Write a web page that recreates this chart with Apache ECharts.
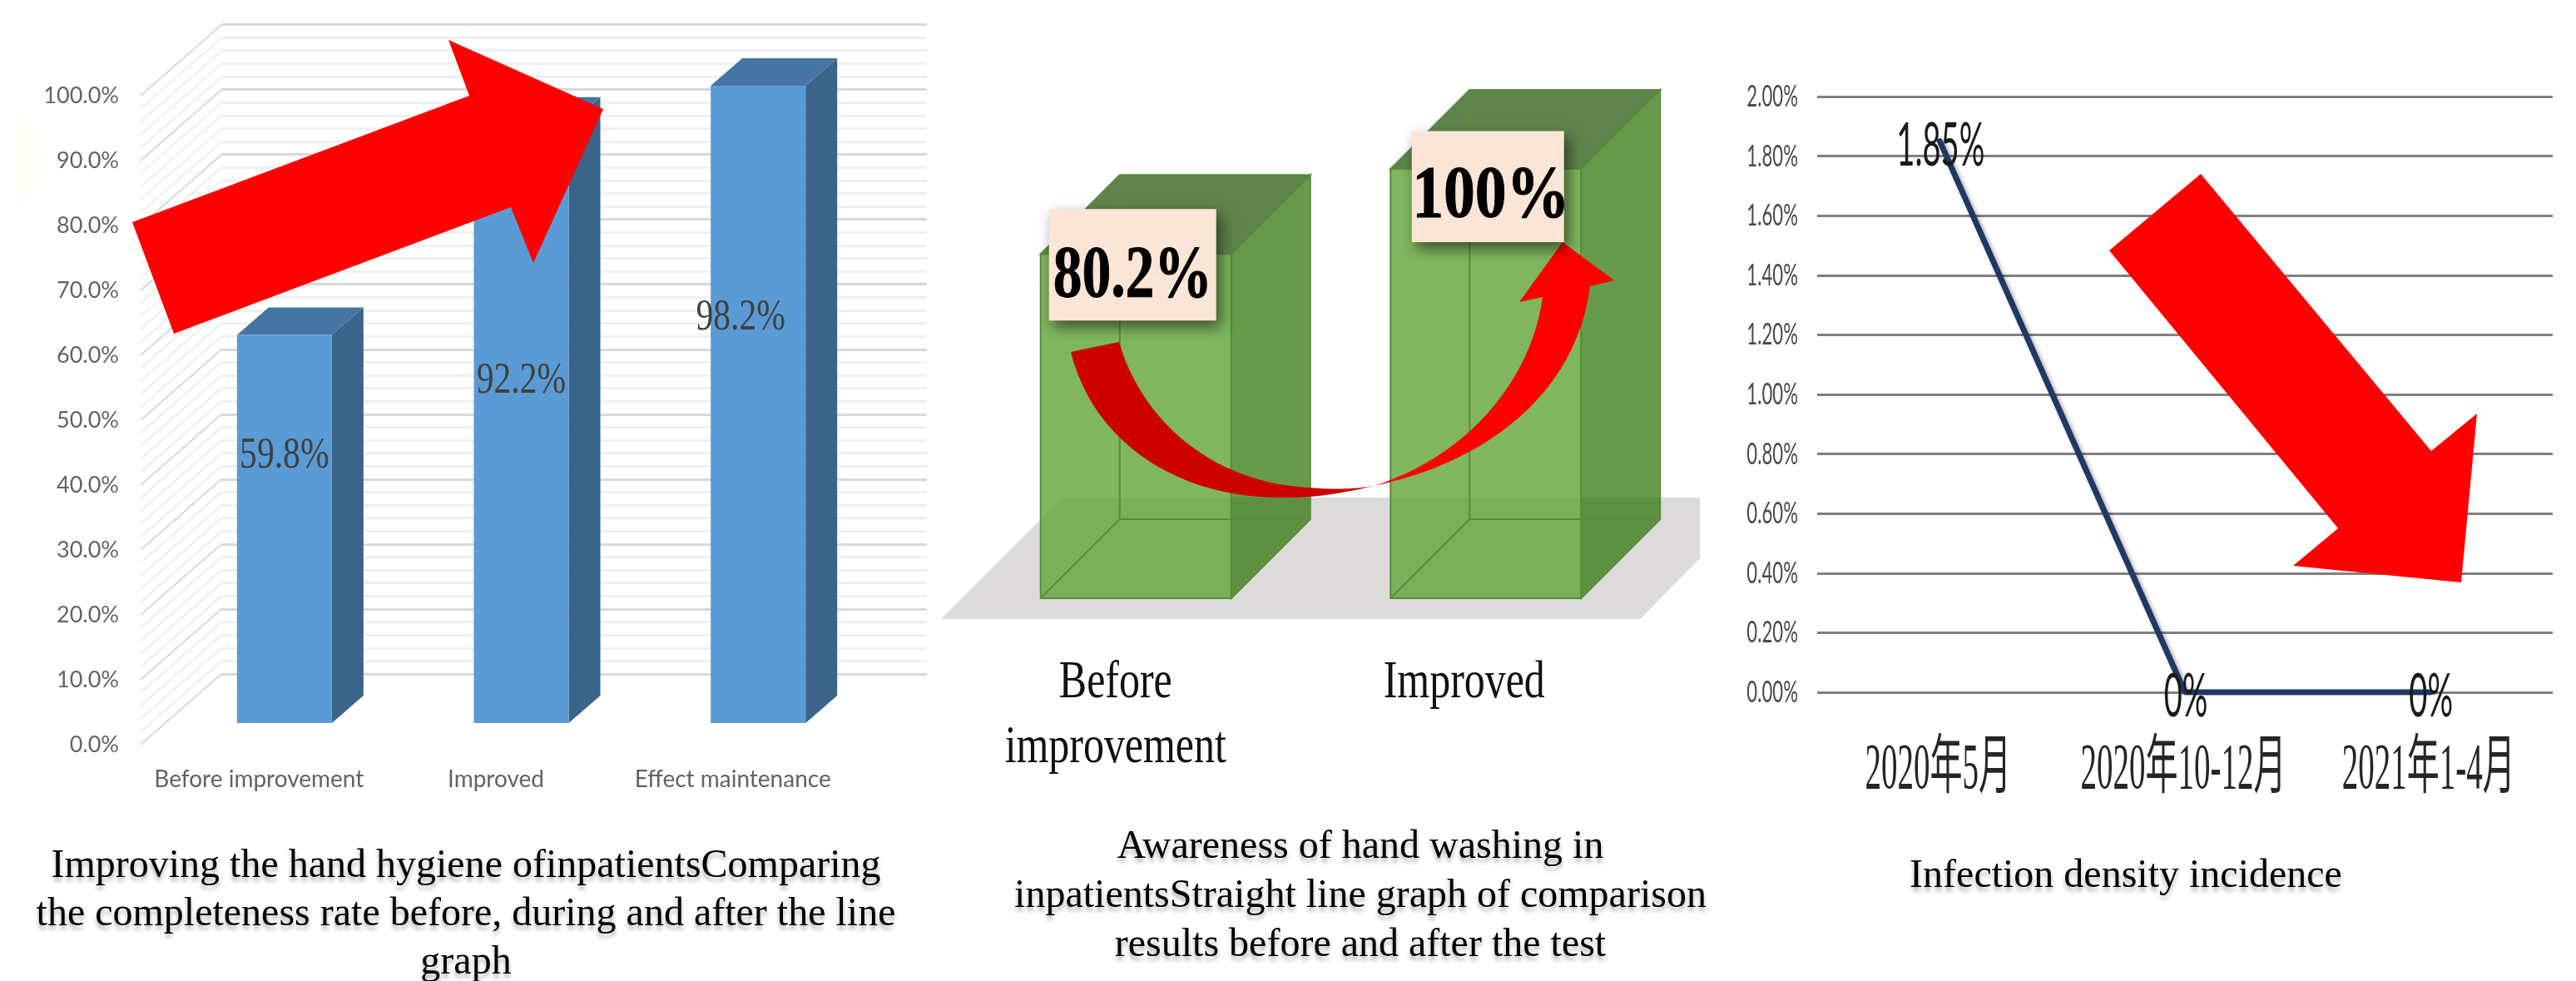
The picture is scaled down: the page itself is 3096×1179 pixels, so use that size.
<!DOCTYPE html>
<html>
<head>
<meta charset="utf-8">
<style>html,body{margin:0;padding:0;background:#fff}#main{width:3096px;height:1179px}</style>
<script src="https://cdn.jsdelivr.net/npm/echarts@6/dist/echarts.min.js"></script>
</head>
<body>
<div id="main"></div>
<script>
// Completeness rate of hand hygiene
const completenessCategories = ['Before improvement', 'Improved', 'Effect maintenance'];
const completenessValues = [59.8, 92.2, 98.2];
// Awareness of hand washing
const awarenessCategories = ['Before\nimprovement', 'Improved'];
const awarenessValues = [80.2, 100];
const awarenessLabels = ['80.2%', '100%'];
// Infection density
const infectionCategories = ['2020年5月', '2020年10-12月', '2021年1-4月'];
const infectionValues = [1.85, 0, 0];
const infectionLabels = ['1.85%', '0%', '0%'];
const infectionTicks = [0, 0.2, 0.4, 0.6, 0.8, 1.0, 1.2, 1.4, 1.6, 1.8, 2.0];
// Wall lines of the 3D-looking column chart, every 2 percent
const wallTicks = [0, 2, 4, 6, 8, 10, 12, 14, 16, 18, 20, 22, 24, 26, 28, 30, 32, 34, 36, 38, 40, 42, 44, 46, 48, 50,
  52, 54, 56, 58, 60, 62, 64, 66, 68, 70, 72, 74, 76, 78, 80, 82, 84, 86, 88, 90, 92, 94, 96, 98, 100];
// Captions
const captionLeft = 'Improving the hand hygiene ofinpatientsComparing\nthe completeness rate before, during and after the line\ngraph';
const captionMiddle = 'Awareness of hand washing in\ninpatientsStraight line graph of comparison\nresults before and after the test';
const captionRight = 'Infection density incidence';

const SERIF = '"Liberation Serif", "Noto Sans CJK SC", serif';
const SANS = 'Lato, "Liberation Sans", sans-serif';

const chart = echarts.init(document.getElementById('main'), null, { renderer: 'canvas' });

const poly = (points, fill, extra) => ({
  type: 'polygon', shape: { points }, style: Object.assign({ fill }, extra || {})
});
const seg = (x1, y1, x2, y2, stroke, lineWidth) => ({
  type: 'line', shape: { x1, y1, x2, y2 }, style: { stroke, lineWidth, fill: null }
});
// Text squeezed horizontally around its anchor
const squeezed = (text, x, y, ratio, font, fill, align, extra) => ({
  type: 'text', x, y, scaleX: ratio,
  style: Object.assign({ text, font, fill, textAlign: align || 'center', textVerticalAlign: 'middle' }, extra || {})
});
// Samples a cubic curve into polygon vertices
const cubic = (p0, p1, p2, p3) => {
  const pts = [];
  for (let k = 0; k <= 24; k++) {
    const t = k / 24, u = 1 - t;
    pts.push([
      u * u * u * p0[0] + 3 * u * u * t * p1[0] + 3 * u * t * t * p2[0] + t * t * t * p3[0],
      u * u * u * p0[1] + 3 * u * u * t * p1[1] + 3 * u * t * t * p2[1] + t * t * t * p3[1]
    ]);
  }
  return pts;
};

// Columns sit part-way into the floor depth of the left chart
const blueBar = { dx: 30.5, dy: -26, half: 57, depthX: 38, depthY: -33 };
const blueLabelOffset = [[0, 146], [0, 309], [-21, 279]];
const blueColumns = (params, api) => {
  const i = api.value(0);
  const top = api.coord([i, api.value(1)]);
  const base = api.coord([i, 0]);
  const b = blueBar;
  const l = top[0] + b.dx - b.half, r = top[0] + b.dx + b.half;
  const t = top[1] + b.dy, y0 = base[1] + b.dy;
  const off = blueLabelOffset[i];
  return {
    type: 'group',
    children: [
      poly([[r, t], [r + b.depthX, t + b.depthY], [r + b.depthX, y0 + b.depthY], [r, y0]], '#3a6489'),
      poly([[l, t], [l + b.depthX, t + b.depthY], [r + b.depthX, t + b.depthY], [r, t]], '#4775a3'),
      poly([[l, t], [r, t], [r, y0], [l, y0]], '#5b9bd5'),
      squeezed(api.value(1).toFixed(1) + '%', top[0] + b.dx + off[0], t + off[1], 0.8,
        '52px "Liberation Serif"', '#404040')
    ]
  };
};
// Left-wall diagonals leading back to the rear wall
const wallDiagonals = (params, api) => {
  const v = api.value(0);
  const y = api.coord([0, v])[1];
  const x = params.coordSys.x;
  const major = v % 10 === 0;
  return seg(x, y, x + 97, y - 85, major ? '#d9d9d9' : '#ededed', 2);
};

// Translucent boxes of the middle chart
const box = { half: 114.5, depthX: 95, depthY: -95 };
const greenBoxes = (params, api) => {
  const i = api.value(0);
  const top = api.coord([i, api.value(1)]);
  const base = api.coord([i, 0]);
  const l = top[0] - box.half, r = top[0] + box.half, t = top[1], y0 = base[1];
  const dx = box.depthX, dy = box.depthY;
  const edge = '#5a8c3c';
  return {
    type: 'group',
    children: [
      poly([[r, t], [r + dx, t + dy], [r + dx, y0 + dy], [r, y0]], 'rgba(45,115,5,0.72)', { stroke: edge, lineWidth: 2 }),
      poly([[l, t], [l + dx, t + dy], [r + dx, t + dy], [r, t]], 'rgba(60,105,35,0.82)', { stroke: edge, lineWidth: 2 }),
      poly([[l, t], [r, t], [r, y0], [l, y0]], 'rgba(101,167,61,0.83)', { stroke: edge, lineWidth: 2 }),
      seg(l + dx, t + dy, l + dx, y0 + dy, edge, 2),
      seg(l, y0, l + dx, y0 + dy, edge, 2),
      seg(l + dx, y0 + dy, r + dx, y0 + dy, edge, 2)
    ]
  };
};
// Peach value cards pinned to the box tops
const cardLayout = [
  { x0: -104.5, x1: 96.5, y0: -54, y1: 80, tx: -4, ty: 28, ratio: 0.79 },
  { x0: -89, x1: 94, y0: -45.5, y1: 88, tx: 6, ty: 34, ratio: 0.86 }
];
const valueCards = (params, api) => {
  const i = api.value(0);
  const p = api.coord([i, api.value(1)]);
  const c = cardLayout[i];
  return {
    type: 'group',
    children: [
      { type: 'rect', shape: { x: p[0] + c.x0, y: p[1] + c.y0, width: c.x1 - c.x0, height: c.y1 - c.y0 },
        style: { fill: '#fbe5d6', shadowBlur: 16, shadowOffsetX: 5, shadowOffsetY: 8, shadowColor: 'rgba(0,0,0,0.55)' } },
      squeezed(awarenessLabels[i], p[0] + c.tx, p[1] + c.ty, c.ratio, 'bold 88px "Liberation Serif"', '#000', 'center',
        { stroke: '#000', lineWidth: 1 })
    ]
  };
};
const greenCategoryOffset = [[-24.5, 820], [-26, 820]];
const greenCategoryText = (params, api) => {
  const i = api.value(0);
  const p = api.coord([i, 0]);
  const o = greenCategoryOffset[i];
  return squeezed(awarenessCategories[i], p[0] + o[0], o[1] - 38, 0.78, '64px "Liberation Serif"', '#111', 'center',
    { textVerticalAlign: 'top', lineHeight: 78 });
};

// Squeezed labels of the right chart
const infectionTickText = (params, api) => {
  const v = api.value(0);
  const y = api.coord([0, v])[1];
  return squeezed(v.toFixed(2) + '%', params.coordSys.x - 23, y, 0.6, '37px Lato', '#4a4a4a', 'right');
};
const infectionCategoryText = (params, api) => {
  const i = api.value(0);
  const p = api.coord([i, 0]);
  return squeezed(infectionCategories[i], p[0] - 2, p[1] + 95, 0.5, '78px ' + SERIF, '#262626');
};
const infectionValueText = (params, api) => {
  const i = api.value(0);
  const p = api.coord([i, api.value(1)]);
  return squeezed(infectionLabels[i], p[0] + 1, p[1] + 6, 0.53, '72px ' + SANS, '#1a1a1a');
};

const captionStyle = {
  fontFamily: '"Liberation Serif", serif', fontSize: 48, fontWeight: 'normal', color: '#000',
  textShadowColor: 'rgba(0,0,0,0.3)', textShadowBlur: 5, textShadowOffsetY: 5
};
const caption = (text, left, top, lineHeight) => ({
  text, left, top, padding: 0, textAlign: 'center',
  textStyle: Object.assign({ lineHeight }, captionStyle)
});

// Curved arrow between the two boxes: dark lower limb, bright rising limb
const curvedArrowDark = [].concat(
  cubic([1287, 423], [1315, 535], [1420, 600], [1545, 598]),
  cubic([1545, 598], [1590, 598], [1625, 590], [1651, 584]),
  cubic([1651, 584], [1620, 589], [1590, 588], [1560, 585]),
  cubic([1560, 585], [1450, 575], [1370, 500], [1345, 411])
);
const curvedArrowBright = [].concat(
  cubic([1651, 584], [1790, 555], [1895, 470], [1911, 344]),
  [[1940, 337], [1878, 291], [1826, 363]],
  cubic([1854, 357], [1840, 460], [1760, 550], [1651, 584])
);

chart.setOption({
  animation: false,
  backgroundColor: '#fff',
  title: [
    caption(captionLeft, 560, 1012, 58),
    caption(captionMiddle, 1635, 989, 59),
    caption(captionRight, 2555, 1023, 60)
  ],
  grid: [
    { left: 169, top: 115, width: 854, height: 780 },
    { left: 266, top: 29.5, width: 848, height: 780.5 },
    { left: 1155, top: 203, width: 841, height: 516 },
    { left: 2184, top: 116, width: 884, height: 716 }
  ],
  xAxis: [
    { gridIndex: 0, type: 'category', data: completenessCategories,
      axisLine: { show: false }, axisTick: { show: false },
      axisLabel: { interval: 0, fontFamily: 'Lato', fontSize: 28, color: '#636363', margin: 28 } },
    { gridIndex: 1, type: 'value', show: false, min: 0, max: 1 },
    { gridIndex: 2, type: 'category', data: awarenessCategories, show: false },
    { gridIndex: 3, type: 'category', data: infectionCategories,
      axisLine: { show: false }, axisTick: { show: false }, axisLabel: { show: false } }
  ],
  yAxis: [
    { gridIndex: 0, type: 'value', min: 0, max: 100, interval: 10,
      axisLine: { show: false }, axisTick: { show: false }, splitLine: { show: false },
      axisLabel: { fontFamily: 'Lato', fontSize: 27, color: '#636363', margin: 26, verticalAlignMaxLabel: 'middle',
        formatter: v => v.toFixed(1) + '%' } },
    { gridIndex: 1, type: 'value', min: 0, max: 100, interval: 10,
      axisLine: { show: false }, axisTick: { show: false }, axisLabel: { show: false },
      splitLine: { lineStyle: { color: '#d9d9d9', width: 3 } },
      minorTick: { show: false, splitNumber: 5 },
      minorSplitLine: { show: true, lineStyle: { color: '#f0f0f0', width: 3 } } },
    { gridIndex: 2, type: 'value', min: 0, max: 100, show: false },
    { gridIndex: 3, type: 'value', min: 0, max: 2, interval: 0.2,
      axisLine: { show: false }, axisTick: { show: false }, axisLabel: { show: false },
      splitLine: { lineStyle: { color: '#808080', width: 3 } } }
  ],
  series: [
    { type: 'custom', name: 'wall', xAxisIndex: 0, yAxisIndex: 0, z: 1, clip: false,
      renderItem: wallDiagonals, encode: { y: 0 }, data: wallTicks.map(v => [v]) },
    { type: 'custom', name: 'Completeness rate', xAxisIndex: 0, yAxisIndex: 0, z: 3, clip: false,
      renderItem: blueColumns, encode: { x: 0, y: 1 }, data: completenessValues.map((v, i) => [i, v]) },
    { type: 'custom', name: 'Awareness', xAxisIndex: 2, yAxisIndex: 2, z: 3, clip: false,
      renderItem: greenBoxes, encode: { x: 0, y: 1 }, data: awarenessValues.map((v, i) => [i, v]) },
    { type: 'custom', name: 'Awareness categories', xAxisIndex: 2, yAxisIndex: 2, z: 4, clip: false,
      renderItem: greenCategoryText, encode: { x: 0 }, data: awarenessValues.map((v, i) => [i]) },
    { type: 'custom', name: 'Awareness values', xAxisIndex: 2, yAxisIndex: 2, z: 8, clip: false,
      renderItem: valueCards, encode: { x: 0, y: 1 }, data: awarenessValues.map((v, i) => [i, v]) },
    { type: 'line', name: 'Infection density', xAxisIndex: 3, yAxisIndex: 3, z: 4, data: infectionValues,
      showSymbol: false, symbol: 'none',
      lineStyle: { color: '#1f3864', width: 7, shadowColor: 'rgba(0,0,0,0.35)', shadowBlur: 5, shadowOffsetX: 3, shadowOffsetY: 3, cap: 'round' } },
    { type: 'custom', name: 'Infection ticks', xAxisIndex: 3, yAxisIndex: 3, z: 4, clip: false,
      renderItem: infectionTickText, encode: { y: 0 }, data: infectionTicks.map(v => [v]) },
    { type: 'custom', name: 'Infection categories', xAxisIndex: 3, yAxisIndex: 3, z: 4, clip: false,
      renderItem: infectionCategoryText, encode: { x: 0 }, data: infectionCategories.map((c, i) => [i]) },
    { type: 'custom', name: 'Infection values', xAxisIndex: 3, yAxisIndex: 3, z: 5, clip: false,
      renderItem: infectionValueText, encode: { x: 0, y: 1 }, data: infectionValues.map((v, i) => [i, v]) }
  ],
  graphic: [
    // Faint smudge at the left edge
    { type: 'polygon', z: 0, shape: { points: [[19, 127], [45, 160], [60, 200], [30, 240], [19, 250]] },
      style: { fill: '#fffef9' } },
    // Grey floor under the boxes
    { type: 'polygon', z: 0, shape: { points: [[1131, 744], [1971, 744], [2043, 671], [2043, 598], [1277, 598]] },
      style: { fill: '#dcdadb' } },
    // Trend arrows
    { type: 'polygon', z: 20, shape: { points: [[159, 267], [209, 401], [614, 249], [641, 316], [725, 131], [539, 48], [564, 115]] },
      style: { fill: '#ff0000' } },
    { type: 'polygon', z: 6, shape: { points: curvedArrowDark }, style: { fill: '#cc0000' } },
    { type: 'polygon', z: 6, shape: { points: curvedArrowBright }, style: { fill: '#ff0000' } },
    { type: 'polygon', z: 20, shape: { points: [[2645, 209], [2535, 301], [2810, 635], [2756, 680], [2958, 700], [2977, 497], [2922, 542]] },
      style: { fill: '#ff0000' } }
  ]
});
</script>
</body>
</html>
